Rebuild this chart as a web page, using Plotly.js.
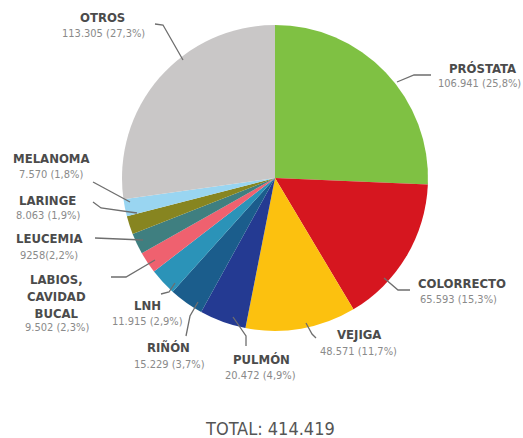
<!DOCTYPE html>
<html>
<head>
<meta charset="utf-8">
<script src="https://cdn.plot.ly/plotly-3.0.1.min.js"></script>
<style>html,body{margin:0;padding:0;background:#fff;}#chart{width:523px;height:438px;}</style>
</head>
<body>
<div id="chart"></div>
<script>
// ---- data ----
var categories = ["PRÓSTATA", "COLORRECTO", "VEJIGA", "PULMÓN", "RIÑÓN", "LNH", "LABIOS,<br>CAVIDAD<br>BUCAL", "LEUCEMIA", "LARINGE", "MELANOMA", "OTROS"];
var cases = [106941, 65593, 48571, 20472, 15229, 11915, 9502, 9258, 8063, 7570, 113305];
var valueLabels = ["106.941 (25,8%)", "65.593 (15,3%)", "48.571 (11,7%)", "20.472 (4,9%)", "15.229 (3,7%)", "11.915 (2,9%)", "9.502 (2,3%)", "9258(2,2%)", "8.063 (1,9%)", "7.570 (1,8%)", "113.305 (27,3%)"];
var totalLabel = "TOTAL: 414.419";

// ---- styles / layout of labels (pixel positions in the 523x438 frame) ----
var colors = ["#7fc143", "#d6161f", "#fcc10f", "#243a92", "#1b5d8c", "#2b93b8", "#ef616f", "#3f7f80", "#878520", "#99d5f1", "#c9c7c7"];
var W = 523, H = 438;
var FONT = "'DejaVu Sans Condensed', 'Liberation Sans Narrow', 'Roboto', 'Liberation Sans', sans-serif";
var labelPos = [
  {name: [482, 68], val: [479, 83], line: [[397, 82], [414, 75], [431, 75]]},
  {name: [462, 283], val: [458, 299], line: [[384, 278], [398, 290], [410, 290]]},
  {name: [359, 334], val: [358, 351], line: [[306, 323], [312, 334], [316, 338]]},
  {name: [261, 359], val: [260, 375], line: [[233, 317], [246, 336], [246, 346]]},
  {name: [168, 347], val: [169, 364], line: [[198, 302], [190, 316], [186, 336]]},
  {name: [147, 305], val: [147, 321], line: [[175, 283], [169, 292], [161, 294]]},
  {name: [56, 296], val: [57, 327], line: [[155, 260], [126, 277], [111, 277]]},
  {name: [49, 238], val: [49, 255], line: [[143, 240], [95, 238]]},
  {name: [47, 200], val: [48, 215], line: [[137, 213], [101, 208], [93, 202]]},
  {name: [51, 158], val: [51, 174], line: [[130, 202], [93, 182]]},
  {name: [102, 18], val: [103, 34], line: [[183, 60], [163, 25], [155, 24]]}
];
var pieCenter = [275, 178], pieR = 153;

function px(x) { return x / W; }
function py(y) { return 1 - y / H; }

var annotations = [];
var shapes = [];
categories.forEach(function (c, i) {
  var p = labelPos[i];
  annotations.push({
    xref: "paper", yref: "paper", x: px(p.name[0]), y: py(p.name[1]),
    text: "<b>" + c.split("<br>").join("</b><br><b>") + "</b>", showarrow: false,
    xanchor: "center", yanchor: "middle", align: "center",
    font: {family: FONT, size: 13, color: "#4b4b4b"}
  });
  annotations.push({
    xref: "paper", yref: "paper", x: px(p.val[0]), y: py(p.val[1]),
    text: valueLabels[i], showarrow: false, xanchor: "center", yanchor: "middle",
    font: {family: FONT, size: 11, color: "#8a8a8a"}
  });
  var d = p.line.map(function (pt, k) { return (k ? "L" : "M") + px(pt[0]) + "," + py(pt[1]); }).join(" ");
  shapes.push({type: "path", xref: "paper", yref: "paper", path: d, line: {color: "#6e6e6e", width: 1.3}});
});
annotations.push({
  xref: "paper", yref: "paper", x: px(270), y: py(428), text: totalLabel, showarrow: false,
  xanchor: "center", yanchor: "middle",
  font: {family: FONT, size: 18, color: "#555555"}
});

var trace = {
  type: "pie",
  labels: categories,
  values: cases,
  sort: false,
  direction: "clockwise",
  rotation: 0,
  textinfo: "none",
  hoverinfo: "label+value",
  marker: {colors: colors, line: {width: 0}},
  domain: {
    x: [px(pieCenter[0] - pieR), px(pieCenter[0] + pieR)],
    y: [py(pieCenter[1] + pieR), py(pieCenter[1] - pieR)]
  }
};

var layout = {
  width: W, height: H,
  margin: {l: 0, r: 0, t: 0, b: 0},
  showlegend: false,
  paper_bgcolor: "#ffffff",
  annotations: annotations,
  shapes: shapes
};

Plotly.newPlot("chart", [trace], layout, {displayModeBar: false, staticPlot: true});
</script>
</body>
</html>
